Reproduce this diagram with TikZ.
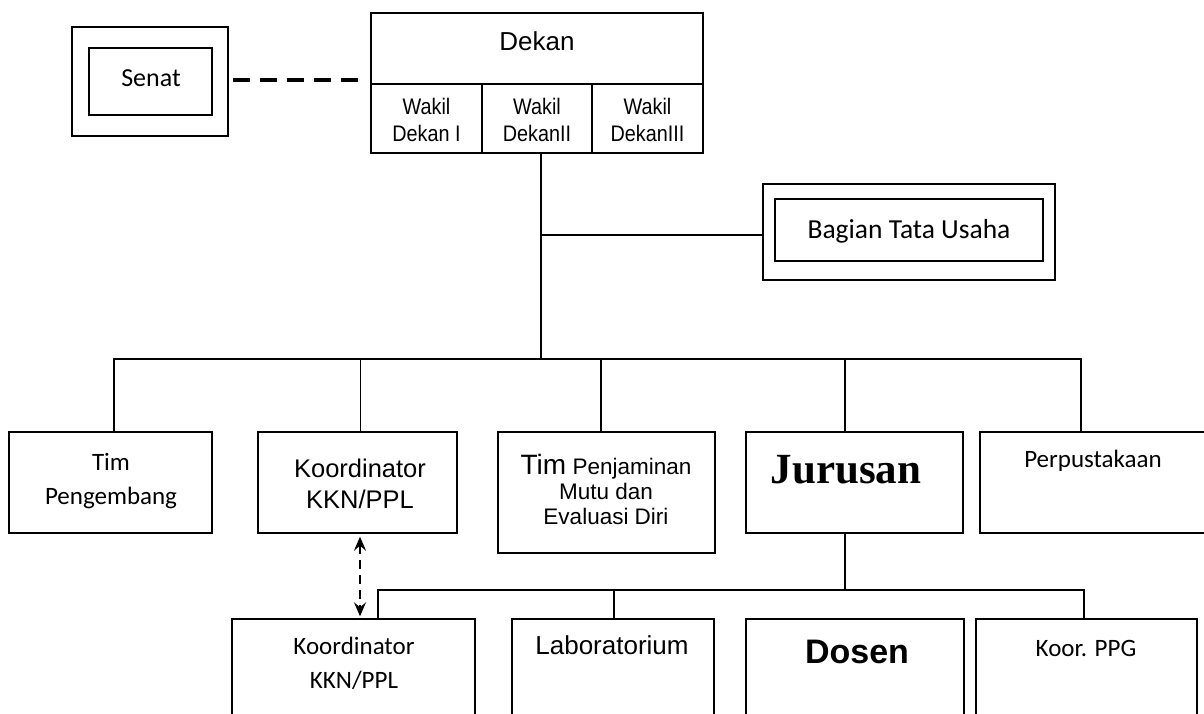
\documentclass[tikz,border=0pt]{standalone}
\usepackage{fontspec}
\setmainfont{Liberation Sans}
\newfontfamily\calfont{Carlito}
\newfontfamily\arifont{Liberation Sans}
\newfontfamily\narfont{Liberation Sans}[FakeStretch=0.88]
\newfontfamily\tmsfont{Liberation Serif}
\usetikzlibrary{arrows.meta}
\tikzset{mytip/.tip={Stealth[length=14pt,width=12pt,inset=5pt]}}
\begin{document}
\begin{tikzpicture}[x=1pt,y=-1pt,
  box/.style={draw, line width=1.4pt, inner sep=0pt, rectangle},
  conn/.style={line width=1.2pt},
  lbl/.style={inner sep=0pt, align=center},
  calt/.style={lbl, font=\calfont\fontsize{25}{34}\selectfont},
  arit/.style={lbl, font=\arifont\fontsize{25}{30}\selectfont}]
\useasboundingbox (0,0) rectangle (1204,713);
% Senat
\node[box, minimum width=156pt, minimum height=109pt] (senatO) at (150,81.5) {};
\node[box, line width=1.3pt, minimum width=123pt, minimum height=67pt] (senatI) at (150.5,81.5) {};
\node[calt, font=\calfont\fontsize{26}{30}\selectfont] (tsenat) at (151,78) {Senat};
% Dekan
\node[box, minimum width=332pt, minimum height=71pt] (dekan) at (537,48.5) {};
\node[box, minimum width=111pt, minimum height=69pt] (wk1) at (426.5,118.5) {};
\node[box, minimum width=110pt, minimum height=69pt] (wk2) at (537,118.5) {};
\node[box, minimum width=111pt, minimum height=69pt] (wk3) at (647.5,118.5) {};
\node[arit, font=\arifont\fontsize{26}{30}\selectfont] (tdekan) at (537,41) {Dekan};
\node[lbl, font=\narfont\fontsize{22.5}{27}\selectfont] (twk1) at (426.5,120) {Wakil\\Dekan I};
\node[lbl, font=\narfont\fontsize{22.5}{27}\selectfont] (twk2) at (537,120) {Wakil\\DekanII};
\node[lbl, font=\narfont\fontsize{22.5}{27}\selectfont] (twk3) at (647.5,120) {Wakil\\DekanIII};
\draw[line width=4pt, dash pattern=on 17pt off 10pt, shorten <=4pt, shorten >=10pt]
  ([yshift=1.5pt]senatO.east) -- ([yshift=1.5pt]senatO.east -| wk1.west);
% Bagian Tata Usaha
\node[box, minimum width=292pt, minimum height=96pt] (btuO) at (909,232) {};
\node[box, line width=1.3pt, minimum width=268pt, minimum height=62pt] (btuI) at (909,230) {};
\node[calt, font=\calfont\fontsize{27.5}{30}\selectfont] (tbtu) at (909,231) {Bagian Tata Usaha};
% row 1
\node[box, minimum width=203pt, minimum height=101pt] (tp) at (110.5,482.5) {};
\node[box, minimum width=199pt, minimum height=101pt] (kk) at (357.5,482.5) {};
\node[box, minimum width=217pt, minimum height=121pt] (tpm) at (606.5,492.5) {};
\node[box, minimum width=217pt, minimum height=101pt] (jur) at (854.5,482.5) {};
\node[box, minimum width=235pt, minimum height=101pt] (perp) at (1097.5,482.5) {};
\node[calt] (ttp) at (111,481) {Tim\\Pengembang};
\node[arit, font=\arifont\fontsize{25.5}{31}\selectfont] (tkk) at (360,484) {Koordinator\\KKN/PPL};
\node[lbl, font=\arifont\fontsize{22.5}{25}\selectfont] (ttpm) at (606,489) {{\fontsize{28}{25}\selectfont Tim} Penjaminan\\Mutu dan\\Evaluasi Diri};
\node[lbl, font=\tmsfont\bfseries\fontsize{43}{43}\selectfont] (tjur) at (846,470) {Jurusan};
\node[calt] (tperp) at (1093,461) {Perpustakaan};
% row 2
\node[box, minimum width=243pt, minimum height=141pt] (kb) at (353.5,689.5) {};
\node[box, minimum width=202pt, minimum height=141pt] (lab) at (613,689.5) {};
\node[box, minimum width=218pt, minimum height=141pt] (dos) at (855,689.5) {};
\node[box, minimum width=221pt, minimum height=141pt] (ppg) at (1086.5,689.5) {};
\node[calt] (tkb) at (354,663) {Koordinator\\KKN/PPL};
\node[arit, font=\arifont\fontsize{26}{30}\selectfont] (tlab) at (612,645) {Laboratorium};
\node[lbl, font=\arifont\bfseries\fontsize{34}{36}\selectfont] (tdos) at (857,652) {Dosen};
\node[calt] (tppg) at (1086,648) {Koor. PPG};
% connectors
\coordinate (j0) at (541,359);
\draw[conn] ([xshift=4pt]wk2.south) -- (j0);
\coordinate (tu) at (541,235);
\draw[conn] (tu) -- (tu -| btuO.west);
\draw[conn] ([xshift=3.5pt]tp.north) |- (j0);
\draw[conn] ([xshift=3pt]kk.north) |- (j0);
\draw[conn] ([xshift=-5.5pt]tpm.north) |- (j0);
\draw[conn] ([xshift=-9.5pt]jur.north) |- (j0);
\draw[conn] ([xshift=-16.5pt]perp.north) |- (j0);
\coordinate (j1) at (845,590);
\draw[conn] ([xshift=-9.5pt]jur.south) -- (j1);
\draw[conn] ([xshift=24.5pt]kb.north) |- (j1);
\draw[conn] ([xshift=1pt]lab.north) |- (j1);
\draw[conn] ([xshift=-2.5pt]ppg.north) |- (j1);
\draw[line width=1.8pt, dash pattern=on 9pt off 6pt, {mytip}-{mytip}, shorten <=3pt, shorten >=2pt]
  ([xshift=2.5pt]kk.south) -- ([xshift=2.5pt]kk.south |- kb.north);
\end{tikzpicture}
\end{document}
